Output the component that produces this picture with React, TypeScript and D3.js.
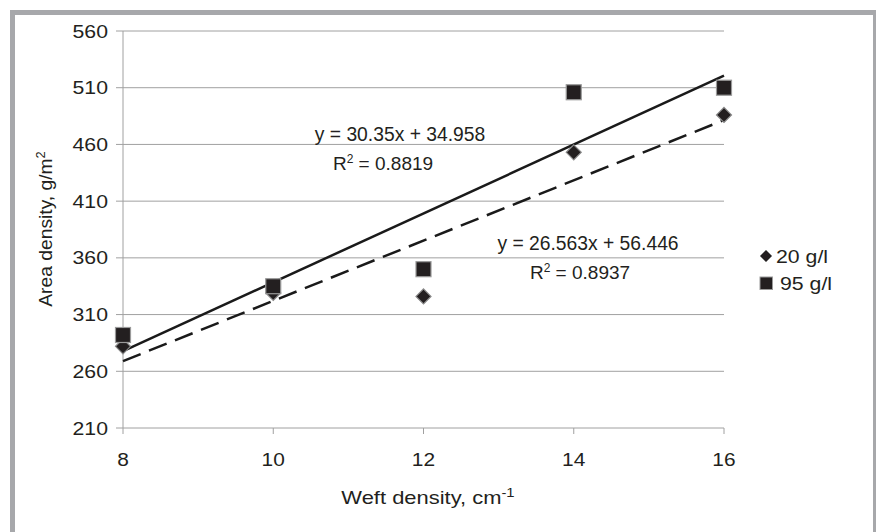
import React from "react";
import * as d3 from "d3";

const xValues = [8, 10, 12, 14, 16];
const series20 = [282, 329, 326, 453, 486];
const series95 = [292, 335, 350, 506, 510];
const yTicks = [210, 260, 310, 360, 410, 460, 510, 560];
const xTicks = [8, 10, 12, 14, 16];
const fit95 = { slope: 30.35, intercept: 34.958 };
const fit20 = { slope: 26.563, intercept: 56.446 };

const W = 876;
const H = 532;
const FONT = "'Liberation Sans', Arial, sans-serif";
const INK = "#231f20";

function SText(props: {
  x: number;
  y: number;
  sx?: number;
  size: number;
  anchor?: string;
  rotate?: number;
  children: React.ReactNode;
}) {
  const { x, y, sx = 1, size, anchor = "start", rotate = 0, children } = props;
  return (
    <text
      transform={`translate(${x},${y}) rotate(${rotate}) scale(${sx},1)`}
      textAnchor={anchor}
      fontSize={size}
      fill={INK}
    >
      {children}
    </text>
  );
}

export default function App() {
  const x = d3.scaleLinear().domain([8, 16]).range([123, 724]);
  const y = d3.scaleLinear().domain([210, 560]).range([428, 31]);

  const fitLine = (f: { slope: number; intercept: number }) =>
    d3
      .line<number>()
      .x((d) => x(d))
      .y((d) => y(f.slope * d + f.intercept))([8, 16]) as string;

  const diamond = (cx: number, cy: number, r: number) =>
    `M${cx},${cy - r}L${cx + r},${cy}L${cx},${cy + r}L${cx - r},${cy}Z`;

  return (
    <svg
      width={W}
      height={H}
      style={{ position: "absolute", left: 0, top: 0, background: "#fff" }}
      fontFamily={FONT}
    >
      <rect x={0} y={0} width={W} height={H} fill="#fff" />
      {/* frame */}
      <rect x={10} y={10} width={866} height={5} fill="#a7a8ab" />
      <rect x={10} y={10} width={5} height={522} fill="#a7a8ab" />
      <rect x={873} y={10} width={3} height={522} fill="#a7a8ab" />

      {/* gridlines */}
      {yTicks.map((t) => (
        <line
          key={t}
          x1={x(8) - 7}
          x2={x(16)}
          y1={y(t)}
          y2={y(t)}
          stroke="#a0a0a0"
          strokeWidth={1}
        />
      ))}
      {/* y axis */}
      <line x1={x(8)} x2={x(8)} y1={y(560)} y2={y(210)} stroke="#a0a0a0" />
      {/* x ticks */}
      {xTicks.map((t) => (
        <line
          key={t}
          x1={x(t)}
          x2={x(t)}
          y1={y(210)}
          y2={y(210) + 6}
          stroke="#a0a0a0"
        />
      ))}
      {/* y tick labels */}
      {yTicks.map((t) => (
        <SText key={t} x={108} y={y(t) + 6.5} size={17.7} sx={1.2} anchor="end">
          {t}
        </SText>
      ))}
      {/* x tick labels */}
      {xTicks.map((t) => (
        <SText key={t} x={x(t)} y={466} size={19} sx={1.1} anchor="middle">
          {t}
        </SText>
      ))}
      {/* axis titles */}
      <SText x={428} y={504} size={17.7} sx={1.24} anchor="middle">
        Weft density, cm
        <tspan dy={-7} fontSize={12}>
          -1
        </tspan>
      </SText>
      <SText x={52} y={229} size={18} sx={1.07} anchor="middle" rotate={-90}>
        Area density, g/m
        <tspan dy={-7} fontSize={12}>
          2
        </tspan>
      </SText>

      {/* fit lines */}
      <path d={fitLine(fit95)} stroke="#1a1a1a" strokeWidth={2.5} fill="none" />
      <path
        d={fitLine(fit20)}
        stroke="#1a1a1a"
        strokeWidth={2.5}
        fill="none"
        strokeDasharray="19,9"
      />

      {/* markers 20 g/l */}
      {xValues.map((xv, i) => (
        <path
          key={"d" + i}
          d={diamond(x(xv), y(series20[i]), 7.5)}
          fill={INK}
          stroke="#8a8a8a"
          strokeWidth={1.2}
        />
      ))}
      {/* markers 95 g/l */}
      {xValues.map((xv, i) => (
        <rect
          key={"s" + i}
          x={x(xv) - 7.5}
          y={y(series95[i]) - 7.5}
          width={15}
          height={15}
          fill={INK}
          stroke="#9a9a9a"
          strokeWidth={1.2}
        />
      ))}

      {/* equations */}
      <SText x={400} y={141} size={19.3} anchor="middle">
        y = 30.35x + 34.958
      </SText>
      <SText x={383} y={170} size={19} anchor="middle">
        R<tspan dy={-7} fontSize={12}>2</tspan>
        <tspan dy={7}> = 0.8819</tspan>
      </SText>
      <SText x={588} y={250} size={19.3} anchor="middle">
        y = 26.563x + 56.446
      </SText>
      <SText x={580} y={279} size={19} anchor="middle">
        R<tspan dy={-7} fontSize={12}>2</tspan>
        <tspan dy={7}> = 0.8937</tspan>
      </SText>

      {/* legend */}
      <path d={diamond(766, 256, 6)} fill={INK} stroke="#8a8a8a" />
      <SText x={776} y={263} size={19} sx={1.12}>
        20 g/l
      </SText>
      <rect x={760} y={277} width={12.5} height={12.5} fill={INK} stroke="#9a9a9a" />
      <SText x={780} y={290} size={19} sx={1.12}>
        95 g/l
      </SText>
    </svg>
  );
}
